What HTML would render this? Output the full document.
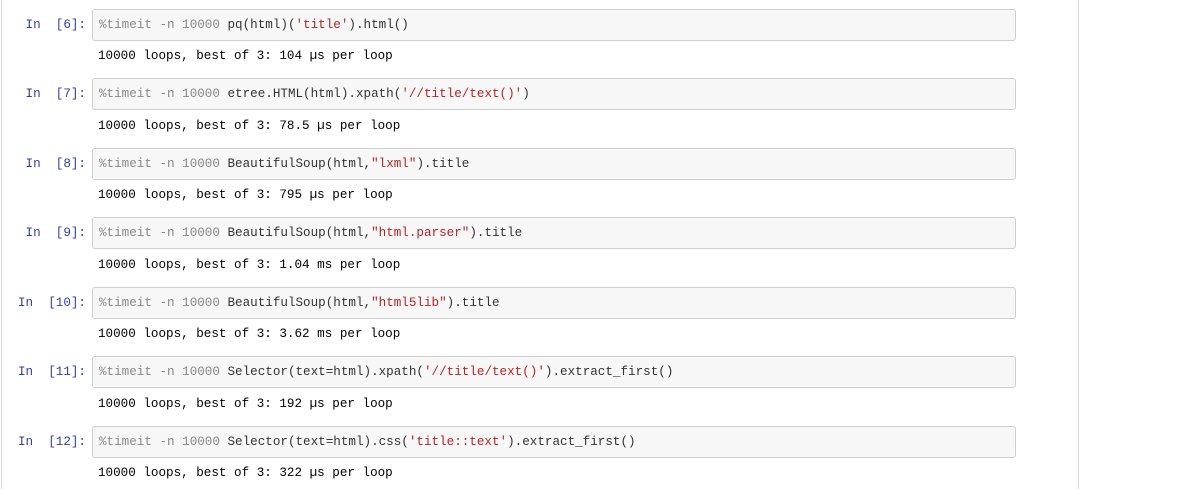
<!DOCTYPE html>
<html><head><meta charset="utf-8"><style>
body{margin:0;width:1185px;height:489px;background:#fff;position:relative;overflow:hidden;font-family:"Liberation Mono","Noto Sans CJK SC",monospace;font-size:12.6px}
.lb{position:absolute;left:1px;top:0;width:1px;height:489px;background:#ddd}
.rb{position:absolute;left:1078px;top:0;width:1px;height:489px;background:#ddd}
.p{position:absolute;right:1099px;color:#303F9F;white-space:pre;line-height:32px}
.box{position:absolute;left:92px;width:916px;height:30px;background:#f7f7f7;border:1px solid #cfcfcf;border-radius:3px;line-height:30px;padding-left:6px;box-sizing:content-box;white-space:pre;color:#333}
.o{position:absolute;left:98px;white-space:pre;color:#000;line-height:20px}
.g{color:#888}.s{color:#BA2121}
</style></head><body>
<div class="lb"></div><div class="rb"></div>
<div class="p" style="top:9px">In  [6]:</div>
<div class="box" style="top:9px"><span class="g">%timeit -n 10000</span> pq(html)(<span class="s">'title'</span>).html()</div>
<div class="o" style="top:46px">10000 loops, best of 3: 104 µs per loop</div>
<div class="p" style="top:78px">In  [7]:</div>
<div class="box" style="top:78px"><span class="g">%timeit -n 10000</span> etree.HTML(html).xpath(<span class="s">'//title/text()'</span>)</div>
<div class="o" style="top:116px">10000 loops, best of 3: 78.5 µs per loop</div>
<div class="p" style="top:148px">In  [8]:</div>
<div class="box" style="top:148px"><span class="g">%timeit -n 10000</span> BeautifulSoup(html,<span class="s">"lxml"</span>).title</div>
<div class="o" style="top:185px">10000 loops, best of 3: 795 µs per loop</div>
<div class="p" style="top:217px">In  [9]:</div>
<div class="box" style="top:217px"><span class="g">%timeit -n 10000</span> BeautifulSoup(html,<span class="s">"html.parser"</span>).title</div>
<div class="o" style="top:255px">10000 loops, best of 3: 1.04 ms per loop</div>
<div class="p" style="top:287px">In  [10]:</div>
<div class="box" style="top:287px"><span class="g">%timeit -n 10000</span> BeautifulSoup(html,<span class="s">"html5lib"</span>).title</div>
<div class="o" style="top:324px">10000 loops, best of 3: 3.62 ms per loop</div>
<div class="p" style="top:356px">In  [11]:</div>
<div class="box" style="top:356px"><span class="g">%timeit -n 10000</span> Selector(text=html).xpath(<span class="s">'//title/text()'</span>).extract_first()</div>
<div class="o" style="top:394px">10000 loops, best of 3: 192 µs per loop</div>
<div class="p" style="top:426px">In  [12]:</div>
<div class="box" style="top:426px"><span class="g">%timeit -n 10000</span> Selector(text=html).css(<span class="s">'title::text'</span>).extract_first()</div>
<div class="o" style="top:463px">10000 loops, best of 3: 322 µs per loop</div>
</body></html>
